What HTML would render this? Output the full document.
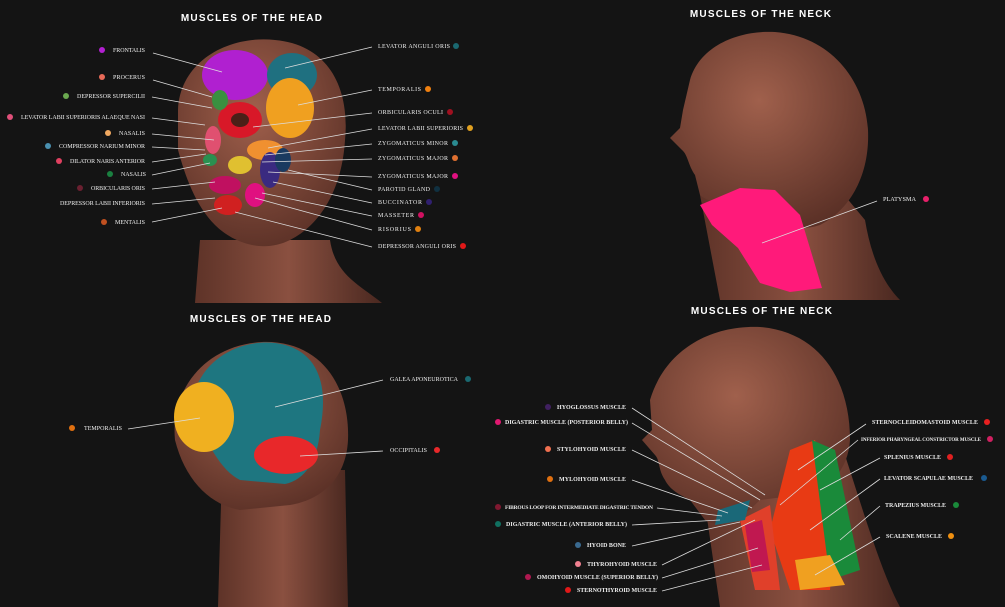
<!DOCTYPE html>
<html><head><meta charset="utf-8"><style>
html,body{margin:0;padding:0;background:#141414;}
svg{display:block}
.t{font-family:"Liberation Sans",sans-serif;font-weight:bold;font-size:10px;fill:#fff;letter-spacing:1.2px;text-anchor:middle}
.l{font-family:"Liberation Serif",serif;font-size:6px;fill:#eee}
.b{font-weight:bold}
.ln{stroke:#ddd;stroke-width:0.8;fill:none}
</style></head><body>
<svg width="1005" height="607" viewBox="0 0 1005 607" xmlns="http://www.w3.org/2000/svg">
<defs>
<radialGradient id="sk" cx="0.45" cy="0.35" r="0.7"><stop offset="0" stop-color="#a0604c"/><stop offset="1" stop-color="#5a3026"/></radialGradient>
<linearGradient id="nk" x1="0" y1="0" x2="1" y2="0"><stop offset="0" stop-color="#5e3328"/><stop offset="0.5" stop-color="#8a5040"/><stop offset="1" stop-color="#4a2820"/></linearGradient>
</defs>
<rect width="1005" height="607" fill="#141414"/>

<!-- TOP LEFT -->
<text class="t" x="252" y="21">MUSCLES OF THE HEAD</text>
<path d="M200,240 L195,303 L382,303 C360,285 335,275 330,240 Z" fill="url(#nk)"/>
<path d="M178,110 C180,60 230,35 275,40 C330,45 350,90 345,140 C342,190 320,225 290,240 C260,255 230,240 215,225 C195,205 185,175 178,150 Z" fill="url(#sk)"/>
<ellipse cx="235" cy="75" rx="33" ry="25" fill="#b020d0"/>
<ellipse cx="292" cy="75" rx="25" ry="22" fill="#1f7080"/>
<ellipse cx="290" cy="108" rx="24" ry="30" fill="#f0a020"/>
<ellipse cx="240" cy="120" rx="22" ry="18" fill="#d81828"/>
<ellipse cx="240" cy="120" rx="9" ry="7" fill="#4a2018"/>
<ellipse cx="220" cy="100" rx="8" ry="10" fill="#3a9040"/>
<ellipse cx="213" cy="140" rx="8" ry="14" fill="#e05070"/>
<ellipse cx="265" cy="150" rx="18" ry="10" fill="#f09030"/>
<ellipse cx="270" cy="170" rx="10" ry="18" fill="#3a2a80"/>
<ellipse cx="240" cy="165" rx="12" ry="9" fill="#e0c030"/>
<ellipse cx="225" cy="185" rx="16" ry="9" fill="#c01060"/>
<ellipse cx="210" cy="160" rx="7" ry="6" fill="#2a9050"/>
<ellipse cx="228" cy="205" rx="14" ry="10" fill="#d02020"/>
<ellipse cx="255" cy="195" rx="10" ry="12" fill="#e01080"/>
<ellipse cx="283" cy="160" rx="8" ry="12" fill="#1a3a60"/>
<g class="ln">
<path d="M153,53 L222,72"/><path d="M153,80 L212,97"/><path d="M152,97 L212,108"/><path d="M152,118 L205,125"/><path d="M152,134 L214,140"/><path d="M152,147 L205,150"/><path d="M152,162 L206,154"/><path d="M152,175 L210,163"/><path d="M152,189 L215,182"/><path d="M152,204 L215,198"/><path d="M152,222 L222,208"/>
<path d="M372,47 L285,68"/><path d="M372,90 L298,105"/><path d="M372,113 L253,127"/><path d="M372,129 L268,148"/><path d="M372,144 L265,155"/><path d="M372,159 L262,162"/><path d="M372,177 L268,172"/><path d="M372,190 L288,170"/><path d="M372,203 L273,182"/><path d="M372,216 L262,193"/><path d="M372,230 L255,198"/><path d="M372,247 L235,212"/>
</g>
<g class="l" lengthAdjust="spacingAndGlyphs">
<circle cx="102" cy="50" r="3" fill="#b21fd1"/><text x="113" y="52" textLength="32">FRONTALIS</text>
<circle cx="102" cy="77" r="3" fill="#e86a58"/><text x="113" y="79" textLength="32">PROCERUS</text>
<circle cx="66" cy="96" r="3" fill="#6aa84f"/><text x="77" y="98" textLength="68">DEPRESSOR SUPERCILII</text>
<circle cx="10" cy="117" r="3" fill="#e0507a"/><text x="21" y="119" textLength="124">LEVATOR LABII SUPERIORIS  ALAEQUE NASI</text>
<circle cx="108" cy="133" r="3" fill="#f0a860"/><text x="119" y="135" textLength="26">NASALIS</text>
<circle cx="48" cy="146" r="3" fill="#4a90b0"/><text x="59" y="148" textLength="86">COMPRESSOR NARIUM MINOR</text>
<circle cx="59" cy="161" r="3" fill="#e04060"/><text x="70" y="163" textLength="75">DILATOR NARIS ANTERIOR</text>
<circle cx="110" cy="174" r="3" fill="#1a8040"/><text x="121" y="176" textLength="25">NASALIS</text>
<circle cx="80" cy="188" r="3" fill="#6a2030"/><text x="91" y="190" textLength="54">ORBICULARIS ORIS</text>
<text x="60" y="205" textLength="85">DEPRESSOR LABII INFERIORIS</text>
<circle cx="104" cy="222" r="3" fill="#c05020"/><text x="115" y="224" textLength="30">MENTALIS</text>
<text x="378" y="48" textLength="72">LEVATOR ANGULI ORIS</text><circle cx="456" cy="46" r="3" fill="#1a6870"/>
<text x="378" y="91" textLength="43">TEMPORALIS</text><circle cx="428" cy="89" r="3" fill="#f08010"/>
<text x="378" y="114" textLength="65">ORBICULARIS OCULI</text><circle cx="450" cy="112" r="3" fill="#a01020"/>
<text x="378" y="130" textLength="85">LEVATOR LABII SUPERIORIS</text><circle cx="470" cy="128" r="3" fill="#e0a020"/>
<text x="378" y="145" textLength="70">ZYGOMATICUS MINOR</text><circle cx="455" cy="143" r="3" fill="#2a8a90"/>
<text x="378" y="160" textLength="70">ZYGOMATICUS MAJOR</text><circle cx="455" cy="158" r="3" fill="#e07030"/>
<text x="378" y="178" textLength="70">ZYGOMATICUS MAJOR</text><circle cx="455" cy="176" r="3" fill="#e01080"/>
<text x="378" y="191" textLength="52">PAROTID GLAND</text><circle cx="437" cy="189" r="3" fill="#103040"/>
<text x="378" y="204" textLength="44">BUCCINATOR</text><circle cx="429" cy="202" r="3" fill="#302070"/>
<text x="378" y="217" textLength="36">MASSETER</text><circle cx="421" cy="215" r="3" fill="#d01060"/>
<text x="378" y="231" textLength="33">RISORIUS</text><circle cx="418" cy="229" r="3" fill="#e08010"/>
<text x="378" y="248" textLength="78">DEPRESSOR ANGULI ORIS</text><circle cx="463" cy="246" r="3" fill="#e01818"/>
</g>

<!-- TOP RIGHT -->
<text class="t" x="761" y="17">MUSCLES OF THE NECK</text>
<path d="M700,195 L720,300 L900,300 C880,280 870,250 865,220 L840,190 Z" fill="url(#nk)"/>
<path d="M690,80 C700,45 740,30 775,32 C830,36 865,80 868,130 C870,175 850,210 820,225 C800,232 780,225 760,215 L740,205 C720,205 705,200 700,195 L695,175 C688,165 688,155 682,150 L670,138 L680,128 L683,110 Z" fill="url(#sk)"/>
<path d="M700,205 L740,188 L775,190 L800,215 L822,288 L790,292 L760,283 L738,248 L712,225 Z" fill="#ff1a7a"/>
<path class="ln" d="M877,201 L762,243"/>
<text class="l" x="883" y="201" textLength="33" lengthAdjust="spacingAndGlyphs">PLATYSMA</text><circle cx="926" cy="199" r="3" fill="#e8206a"/>

<!-- BOTTOM LEFT -->
<text class="t" x="261" y="322">MUSCLES OF THE HEAD</text>
<path d="M222,470 L218,607 L348,607 L345,470 Z" fill="url(#nk)"/>
<path d="M175,440 C170,390 205,345 262,342 C320,340 350,385 348,440 C346,480 320,500 290,505 L240,510 C210,505 185,480 175,440 Z" fill="url(#sk)"/>
<path d="M195,390 C210,350 250,340 275,343 C315,348 330,380 320,430 C318,460 305,480 285,484 L240,480 C220,470 205,440 200,420 Z" fill="#1e7680"/>
<ellipse cx="204" cy="417" rx="30" ry="35" fill="#f0b020"/>
<ellipse cx="286" cy="455" rx="32" ry="19" fill="#e8282a"/>
<path class="ln" d="M128,429 L200,418"/><path class="ln" d="M383,380 L275,407"/><path class="ln" d="M383,451 L300,456"/>
<g class="l" lengthAdjust="spacingAndGlyphs">
<circle cx="72" cy="428" r="3" fill="#e07010"/><text x="84" y="430" textLength="38">TEMPORALIS</text>
<text x="390" y="381" textLength="68">GALEA APONEUROTICA</text><circle cx="468" cy="379" r="3" fill="#1a6870"/>
<text x="390" y="452" textLength="37">OCCIPITALIS</text><circle cx="437" cy="450" r="3" fill="#e8282a"/>
</g>

<!-- BOTTOM RIGHT -->
<text class="t" x="762" y="314">MUSCLES OF THE NECK</text>
<path d="M700,470 L720,607 L900,607 C880,570 860,500 840,440 Z" fill="url(#nk)"/>
<path d="M650,400 C665,350 710,325 760,327 C820,332 850,380 850,440 C848,470 830,490 800,495 L760,500 C740,520 720,530 705,520 L690,500 C680,495 670,490 665,480 C658,470 660,460 655,455 L642,440 L652,430 Z" fill="url(#sk)"/>
<path d="M790,450 L815,440 L835,520 L830,590 L790,590 L770,530 Z" fill="#e83a14"/>
<path d="M812,440 L835,450 L860,570 L830,580 Z" fill="#1a8a3a"/>
<path d="M795,560 L830,555 L845,585 L800,590 Z" fill="#f0a020"/>
<path d="M740,520 L770,505 L780,590 L755,590 Z" fill="#e0402a"/>
<path d="M718,510 L750,500 L745,520 L715,525 Z" fill="#1a6878"/>
<path d="M745,525 L762,520 L770,570 L752,572 Z" fill="#c01850"/>
<g class="ln">
<path d="M632,408 L765,495"/><path d="M632,423 L760,500"/><path d="M632,450 L752,508"/><path d="M632,480 L728,513"/><path d="M657,508 L722,516"/><path d="M632,525 L720,520"/><path d="M632,546 L740,522"/><path d="M662,565 L755,520"/><path d="M662,578 L758,548"/><path d="M662,591 L762,565"/>
<path d="M866,424 L798,470"/><path d="M858,440 L780,505"/><path d="M880,458 L820,490"/><path d="M880,479 L810,530"/><path d="M880,506 L840,540"/><path d="M880,537 L815,575"/>
</g>
<g class="l b" lengthAdjust="spacingAndGlyphs">
<text x="557" y="409" textLength="69">HYOGLOSSUS MUSCLE</text>
<text x="505" y="424" textLength="123">DIGASTRIC MUSCLE (POSTERIOR BELLY)</text>
<text x="557" y="451" textLength="69">STYLOHYOID MUSCLE</text>
<text x="559" y="481" textLength="67">MYLOHYOID MUSCLE</text>
<text x="505" y="509" textLength="148" style="font-size:5.5px">FIBROUS LOOP FOR INTERMEDIATE DIGASTRIC TENDON</text>
<text x="506" y="526" textLength="121">DIGASTRIC MUSCLE (ANTERIOR BELLY)</text>
<text x="587" y="547" textLength="39">HYOID BONE</text>
<text x="587" y="566" textLength="70">THYROHYOID MUSCLE</text>
<text x="537" y="579" textLength="121">OMOHYOID MUSCLE (SUPERIOR BELLY)</text>
<text x="577" y="592" textLength="80">STERNOTHYROID MUSCLE</text>
</g>
<circle cx="548" cy="407" r="3" fill="#402060"/>
<circle cx="498" cy="422" r="3" fill="#e01870"/>
<circle cx="548" cy="449" r="3" fill="#f07050"/>
<circle cx="550" cy="479" r="3" fill="#e07010"/>
<circle cx="498" cy="507" r="3" fill="#801830"/>
<circle cx="498" cy="524" r="3" fill="#107060"/>
<circle cx="578" cy="545" r="3" fill="#3a6a90"/>
<circle cx="578" cy="564" r="3" fill="#f08090"/>
<circle cx="528" cy="577" r="3" fill="#b01850"/>
<circle cx="568" cy="590" r="3" fill="#e01818"/>
<g class="l b" lengthAdjust="spacingAndGlyphs">
<text x="872" y="424" textLength="106">STERNOCLEIDOMASTOID MUSCLE</text>
<text x="861" y="441" textLength="120" style="font-size:5px">INFERIOR PHARYNGEAL CONSTRICTOR MUSCLE</text>
<text x="884" y="459" textLength="57">SPLENIUS MUSCLE</text>
<text x="884" y="480" textLength="89">LEVATOR SCAPULAE MUSCLE</text>
<text x="885" y="507" textLength="61">TRAPEZIUS MUSCLE</text>
<text x="886" y="538" textLength="56">SCALENE MUSCLE</text>
</g>
<circle cx="987" cy="422" r="3" fill="#e82020"/>
<circle cx="990" cy="439" r="3" fill="#d02060"/>
<circle cx="950" cy="457" r="3" fill="#e02020"/>
<circle cx="984" cy="478" r="3" fill="#1a5a90"/>
<circle cx="956" cy="505" r="3" fill="#1a8a3a"/>
<circle cx="951" cy="536" r="3" fill="#f09010"/>
</svg>
</body></html>
